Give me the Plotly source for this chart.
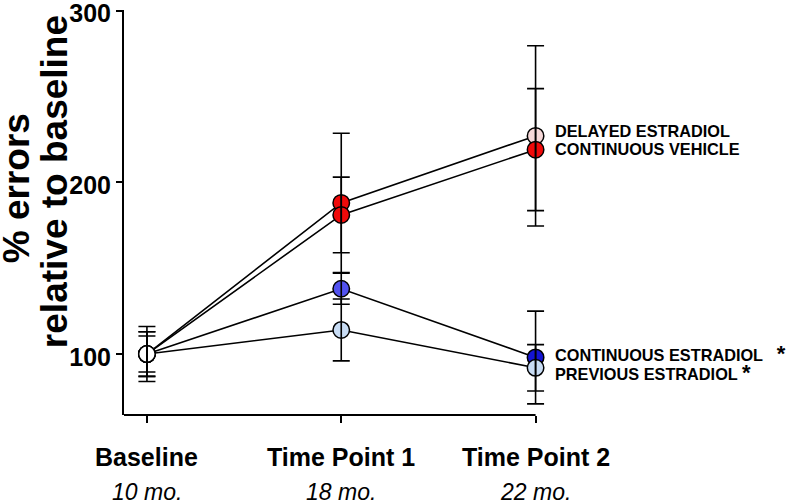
import plotly.graph_objects as go

# ---------------- data ----------------
categories = ["Baseline", "Time Point 1", "Time Point 2"]
ages = ["10 mo.", "18 mo.", "22 mo."]
x_pos = [0, 1, 2]

series_names = ["DELAYED ESTRADIOL", "CONTINUOUS VEHICLE",
                "CONTINUOUS ESTRADIOL", "PREVIOUS ESTRADIOL"]
significance = ["", "", "*", "*"]

delayed_estradiol = [100, 188, 227]
delayed_estradiol_err = [16, 40.5, 52.5]
continuous_vehicle = [100, 181, 219]
continuous_vehicle_err = [13, 22, 35.5]
continuous_estradiol = [100, 138, 98]
continuous_estradiol_err = [10.5, 9, 27]
previous_estradiol = [100, 114, 92]
previous_estradiol_err = [13, 18, 13.5]

y_ticks = [100, 200, 300]
y_title_lines = ["% errors", "relative to baseline"]

# ---------------- styles ----------------
values = [delayed_estradiol, continuous_vehicle, continuous_estradiol, previous_estradiol]
errors = [delayed_estradiol_err, continuous_vehicle_err, continuous_estradiol_err, previous_estradiol_err]
point_colors = [
    ["#ffffff", "#f00a0a", "#f6d8d8"],
    ["#ffffff", "#f00a0a", "#f00a0a"],
    ["#ffffff", "#5252f0", "#1414d2"],
    ["#ffffff", "#c8dcf4", "#c8dcf4"],
]
label_yshift = [5, 1, 3.5, -4.5]
sig_gap = ["", "", "&nbsp;&nbsp; ", " "]

FONT = "Arial, Liberation Sans, Helvetica, sans-serif"
X_RANGE = [-0.118, 2.1]
Y_RANGE = [64.5, 300.3]

fig = go.Figure()

# connecting lines (bottom layer)
for vals in values:
    fig.add_trace(go.Scatter(x=x_pos, y=vals, mode="lines",
                             line=dict(color="black", width=1.6),
                             hoverinfo="skip", showlegend=False, cliponaxis=False))
# markers
for vals, cols in zip(values, point_colors):
    fig.add_trace(go.Scatter(x=x_pos, y=vals, mode="markers",
                             marker=dict(size=16.5, color=cols,
                                         line=dict(color="black", width=1.5)),
                             showlegend=False, cliponaxis=False))
# error bars drawn over the markers
for vals, errs in zip(values, errors):
    fig.add_trace(go.Scatter(x=x_pos, y=vals, mode="markers",
                             marker=dict(size=1, opacity=0),
                             error_y=dict(type="data", array=errs, visible=True,
                                          color="black", thickness=1.6, width=8.5),
                             hoverinfo="skip", showlegend=False, cliponaxis=False))

annotations = []
# series labels at the right
for name, sig, gap, vals, ys in zip(series_names, significance, sig_gap, values, label_yshift):
    txt = name + ((gap + '<span style="font-size:22px">' + sig + '</span>') if sig else "")
    annotations.append(dict(x=x_pos[-1], y=vals[-1], xref="x", yref="y",
                            text=txt, showarrow=False, xanchor="left", yanchor="middle",
                            xshift=17, yshift=ys,
                            font=dict(family=FONT, size=16.3, color="black", weight="bold")))
# x category labels
for xi, cat, age in zip(x_pos, categories, ages):
    annotations.append(dict(x=xi, y=0, xref="x", yref="paper", text=cat,
                            showarrow=False, xanchor="center", yanchor="middle", yshift=-42,
                            font=dict(family=FONT, size=25, color="black", weight="bold")))
    annotations.append(dict(x=xi, y=0, xref="x", yref="paper", text=age,
                            showarrow=False, xanchor="center", yanchor="middle", yshift=-77,
                            font=dict(family=FONT, size=23, color="black", style="italic")))
# y title (two lines)
annotations.append(dict(x=0, y=0.56, xref="paper", yref="paper", text=y_title_lines[0],
                        showarrow=False, textangle=-90, xanchor="center", yanchor="middle",
                        xshift=-108,
                        font=dict(family=FONT, size=37, color="black", weight="bold")))
annotations.append(dict(x=0, y=0.575, xref="paper", yref="paper", text=y_title_lines[1],
                        showarrow=False, textangle=-90, xanchor="center", yanchor="middle",
                        xshift=-70,
                        font=dict(family=FONT, size=37, color="black", weight="bold")))

# x axis baseline (ends at the last category)
shapes = [dict(type="line", xref="x", yref="paper", x0=X_RANGE[0], x1=x_pos[-1],
               y0=0, y1=0, line=dict(color="black", width=2))]

fig.update_layout(
    width=786, height=501,
    margin=dict(l=124, r=231, t=10, b=86, autoexpand=False),
    paper_bgcolor="white", plot_bgcolor="white",
    showlegend=False,
    annotations=annotations,
    shapes=shapes,
    xaxis=dict(range=X_RANGE, tickvals=x_pos, showticklabels=False,
               ticks="outside", ticklen=7, tickwidth=2, tickcolor="black",
               showline=False, showgrid=False, zeroline=False, automargin=False),
    yaxis=dict(range=Y_RANGE, tickvals=y_ticks, ticks="outside", ticklen=6,
               tickwidth=2, tickcolor="black",
               showline=True, linecolor="black", linewidth=2,
               showgrid=False, zeroline=False, ticklabeloverflow="allow",
               ticklabelshift=3, automargin=False,
               tickfont=dict(family=FONT, size=25, color="black", weight="bold")),
)

fig.write_html("out.html")
